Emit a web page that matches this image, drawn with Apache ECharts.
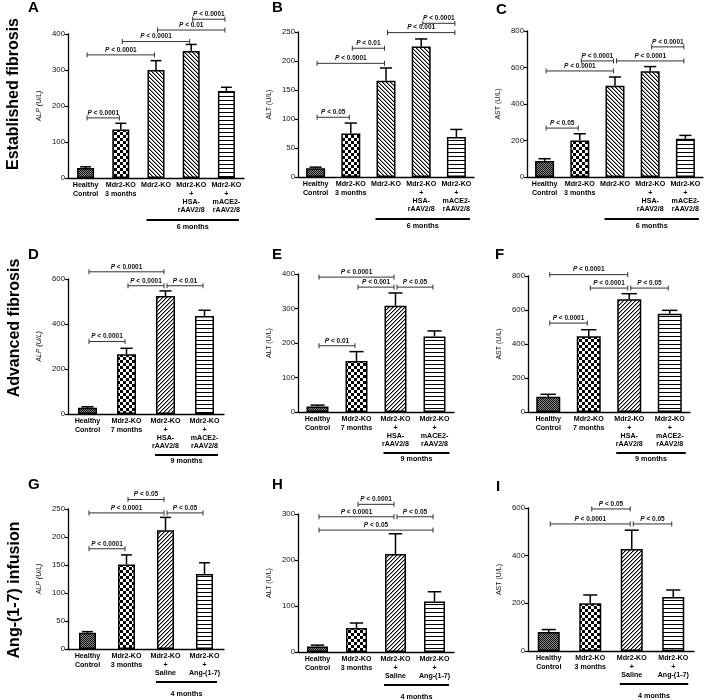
<!DOCTYPE html>
<html><head><meta charset="utf-8">
<script src="https://cdn.jsdelivr.net/npm/echarts@6/dist/echarts.min.js"></script>
<style>html,body{margin:0;padding:0;background:#fff}#c{width:709px;height:700px}</style>
</head><body><div id="c"></div>
<script>
// ---------- DATA ----------
const catsEst = ['Healthy\nControl','Mdr2-KO\n3 months','Mdr2-KO','Mdr2-KO\n+\nHSA-\nrAAV2/8','Mdr2-KO\n+\nmACE2-\nrAAV2/8'];
const catsAdv = ['Healthy\nControl','Mdr2-KO\n7 months','Mdr2-KO\n+\nHSA-\nrAAV2/8','Mdr2-KO\n+\nmACE2-\nrAAV2/8'];
const catsAng = ['Healthy\nControl','Mdr2-KO\n3 months','Mdr2-KO\n+\nSaline','Mdr2-KO\n+\nAng-(1-7)'];

const rowTitles = ['Established fibrosis','Advanced fibrosis','Ang-(1-7) infusion'];
const panelLetters = ['A','B','C','D','E','F','G','H','I'];
const yNames = ['ALP (U/L)','ALT (U/L)','AST (U/L)'];

// means and SEM (U/L)
const alpEstMean = [28,135,300,353,242];  const alpEstSem = [3,17,26,18,10];
const altEstMean = [15,75,166,225,69];    const altEstSem = [2,18,22,13,13];
const astEstMean = [88,200,500,580,210];  const astEstSem = [12,37,48,25,18];
const alpAdvMean = [28,266,524,436];      const alpAdvSem = [4,26,23,25];
const altAdvMean = [16,148,308,219];      const altAdvSem = [4,27,37,16];
const astAdvMean = [90,445,663,578];      const astAdvSem = [14,39,33,20];
const alpAngMean = [29,151,212,134];      const alpAngSem = [2,17,23,20];
const altAngMean = [12,52,213,110];       const altAngSem = [3,11,44,21];
const astAngMean = [80,200,428,227];      const astAngSem = [10,35,79,29];

// y-axis ticks: [max, step]
const ticksA = [400,100], ticksB = [250,50], ticksC = [800,200];
const ticksD = [600,200], ticksE = [400,100], ticksF = [800,200];
const ticksG = [250,50],  ticksH = [300,100], ticksI = [600,200];

// significance brackets: [fromCat, toCat, level (U/L), p-value text]
const pA = [[0,1,167,'0.0001'],[0,2,342,'0.0001'],[1,3,379,'0.0001'],[2,4,411,'0.01'],[3,4,441,'0.0001']];
const pB = [[0,1,103,'0.05'],[0,2,196,'0.0001'],[1,2,222,'0.01'],[2,4,249,'0.001'],[3,4,265,'0.0001']];
const pC = [[0,1,268,'0.05'],[0,2,581,'0.0001'],[1,2,636,'0.0001'],[2,4,636,'0.0001'],[3,4,713,'0.0001']];
const pD = [[0,1,322,'0.0001'],[0,2,632,'0.0001'],[1,2,570,'0.0001'],[2,3,570,'0.01']];
const pE = [[0,1,192,'0.01'],[0,2,391,'0.0001'],[1,2,362,'0.001'],[2,3,362,'0.05']];
const pF = [[0,1,523,'0.0001'],[0,2,808,'0.0001'],[1,2,729,'0.0001'],[2,3,729,'0.05']];
const pG = [[0,1,179,'0.0001'],[0,2,243,'0.0001'],[1,2,267,'0.05'],[2,3,243,'0.05']];
const pH = [[1,2,321,'0.0001'],[0,2,294,'0.0001'],[2,3,294,'0.05'],[0,3,265,'0.05']];
const pI = [[1,2,596,'0.05'],[0,2,533,'0.0001'],[2,3,533,'0.05']];

// time-point groups: [fromCat, toCat, text]
const groupEst = [2,4,'6 months'];
const groupAdv = [2,3,'9 months'];
const groupAng = [2,3,'4 months'];

// ---------- PATTERNS ----------
function tile(w,h,draw){const c=document.createElement('canvas');c.width=w;c.height=h;const g=c.getContext('2d');g.fillStyle='#fff';g.fillRect(0,0,w,h);draw(g);return c;}
const patFine = tile(2,2,g=>{g.fillStyle='#888';g.fillRect(0,0,2,2);g.fillStyle='#111';g.fillRect(0,0,1,1);g.fillRect(1,1,1,1);});
const patCheck = tile(6,6,g=>{g.fillStyle='#000';g.fillRect(0,0,3,3);g.fillRect(3,3,3,3);});
const patUp = tile(4,4,g=>{for(let i=0;i<4;i++){g.fillStyle='#000';g.fillRect(3-i,i,1,1);g.fillStyle='#999';g.fillRect((4-i)%4,i,1,1);}});
const patDown = tile(4,4,g=>{for(let i=0;i<4;i++){g.fillStyle='#000';g.fillRect(i,i,1,1);g.fillStyle='#999';g.fillRect((i+1)%4,i,1,1);}});
const patHor = tile(4,4,g=>{g.fillStyle='#000';g.fillRect(0,0,4,1);});
const P = c => ({image:c, repeat:'repeat'});
const patsEst = [P(patFine),P(patCheck),P(patDown),P(patDown),P(patHor)];
const pats4 = [P(patFine),P(patCheck),P(patUp),P(patHor)];

// ---------- LAYOUT ----------
const panels = [
 {cats:catsEst, mean:alpEstMean, sem:alpEstSem, t:ticksA, br:pA, grp:groupEst, name:yNames[0], it:true,  g:{left:68, top:34, width:176,height:144}, bw:17, lo:42, to:49, pats:patsEst, L:[28,0]},
 {cats:catsEst, mean:altEstMean, sem:altEstSem, t:ticksB, br:pB, grp:groupEst, name:yNames[1], it:false, g:{left:298,top:32, width:176,height:145}, bw:19, lo:42, to:49, pats:patsEst, L:[272,0]},
 {cats:catsEst, mean:astEstMean, sem:astEstSem, t:ticksC, br:pC, grp:groupEst, name:yNames[2], it:false, g:{left:527,top:31, width:176,height:146}, bw:19, lo:42, to:49, pats:patsEst, L:[496,2]},
 {cats:catsAdv, mean:alpAdvMean, sem:alpAdvSem, t:ticksD, br:pD, grp:groupAdv, name:yNames[0], it:true,  g:{left:68, top:279,width:156,height:135}, bw:19, lo:41, to:47, pats:pats4, L:[28,247]},
 {cats:catsAdv, mean:altAdvMean, sem:altAdvSem, t:ticksE, br:pE, grp:groupAdv, name:yNames[1], it:false, g:{left:298,top:274,width:156,height:138}, bw:22, lo:41, to:47, pats:pats4, L:[272,247]},
 {cats:catsAdv, mean:astAdvMean, sem:astAdvSem, t:ticksF, br:pF, grp:groupAdv, name:yNames[2], it:false, g:{left:528,top:276,width:162,height:136}, bw:24, lo:41, to:47, pats:pats4, L:[495,247]},
 {cats:catsAng, mean:alpAngMean, sem:alpAngSem, t:ticksG, br:pG, grp:groupAng, name:yNames[0], it:true,  g:{left:68, top:509,width:156,height:140}, bw:17, lo:33, to:45, pats:pats4, L:[28,477]},
 {cats:catsAng, mean:altAngMean, sem:altAngSem, t:ticksH, br:pH, grp:groupAng, name:yNames[1], it:false, g:{left:298,top:514,width:156,height:138}, bw:21, lo:33, to:45, pats:pats4, L:[272,477]},
 {cats:catsAng, mean:astAngMean, sem:astAngSem, t:ticksI, br:pI, grp:groupAng, name:yNames[2], it:false, g:{left:528,top:508,width:166,height:143}, bw:22, lo:33, to:45, pats:pats4, L:[496,479]}
];

const FF = '"Liberation Sans", Arial, sans-serif';
const grids=[], xAxes=[], yAxes=[], series=[], graphics=[];

panels.forEach((p,k)=>{
  grids.push(Object.assign({containLabel:false}, p.g));
  xAxes.push({type:'category', gridIndex:k, data:p.cats,
    axisLine:{lineStyle:{color:'#000',width:1.3}}, axisTick:{show:false},
    axisLabel:{interval:0, color:'#000', fontFamily:FF, fontSize:7.1, fontWeight:'bold', lineHeight:8.4, margin:3, hideOverlap:false}});
  yAxes.push({type:'value', gridIndex:k, min:0, max:p.t[0], interval:p.t[1],
    splitLine:{show:false},
    axisLine:{show:true, lineStyle:{color:'#000',width:1.3}},
    axisTick:{show:true, length:3, lineStyle:{color:'#000',width:1.2}},
    axisLabel:{color:'#111', fontFamily:FF, fontSize:7.8, margin:3},
    name:p.name, nameLocation:'middle', nameGap:25,
    nameTextStyle:{color:'#111', fontFamily:FF, fontSize:7, fontStyle:p.it?'italic':'normal'}});
  // bars
  series.push({type:'bar', xAxisIndex:k, yAxisIndex:k, barWidth:p.bw, animation:false, silent:true,
    data:p.mean.map((v,i)=>({value:v, itemStyle:{color:p.pats[i], borderColor:'#000', borderWidth:1.5}})), z:2});
  // error bars
  const bw = p.bw;
  series.push({type:'custom', xAxisIndex:k, yAxisIndex:k, animation:false, silent:true, z:3,
    data:p.mean.map((v,i)=>[i, v, v+p.sem[i]]), encode:{x:0, y:[1,2]},
    renderItem:(params,api)=>{
      const a=api.coord([api.value(0),api.value(1)]), b=api.coord([api.value(0),api.value(2)]);
      const h=bw*0.32, st={stroke:'#000', lineWidth:1.5};
      return {type:'group', children:[
        {type:'line', shape:{x1:a[0],y1:a[1],x2:b[0],y2:b[1]}, style:st},
        {type:'line', shape:{x1:b[0]-h,y1:b[1],x2:b[0]+h,y2:b[1]}, style:st}]};
    }});
  // significance brackets
  const br = p.br;
  series.push({type:'custom', xAxisIndex:k, yAxisIndex:k, animation:false, silent:true, clip:false, z:4,
    data:br.map(b=>[b[0], b[1], b[2]]), encode:{x:[0,1], y:2},
    renderItem:(params,api)=>{
      const b=br[params.dataIndex];
      const a=api.coord([api.value(0),api.value(2)]), c=api.coord([api.value(1),api.value(2)]);
      const x1=a[0]+1.5, x2=c[0]-1.5, y=a[1], st={stroke:'#333', lineWidth:1};
      return {type:'group', children:[
        {type:'line', shape:{x1:x1,y1:y,x2:x2,y2:y}, style:st},
        {type:'line', shape:{x1:x1,y1:y-2.5,x2:x1,y2:y+2.5}, style:st},
        {type:'line', shape:{x1:x2,y1:y-2.5,x2:x2,y2:y+2.5}, style:st},
        {type:'text', x:(x1+x2)/2, y:y-1.5, style:{text:'{i|P} < '+b[3], fill:'#111', fontFamily:FF, fontSize:6.5, fontWeight:'bold',
          align:'center', verticalAlign:'bottom', rich:{i:{fontStyle:'italic', fontWeight:'bold', fontSize:6.5, fontFamily:FF, fill:'#111'}}}}]};
    }});
  // time-point group underline
  const grp = p.grp, lo=p.lo, to=p.to;
  series.push({type:'custom', xAxisIndex:k, yAxisIndex:k, animation:false, silent:true, clip:false, z:4,
    data:[[grp[0], grp[1], 0]], encode:{x:[0,1], y:2},
    renderItem:(params,api)=>{
      const a=api.coord([api.value(0),0]), c=api.coord([api.value(1),0]);
      const x1=a[0]-bw/2-1, x2=c[0]+bw/2+4;
      return {type:'group', children:[
        {type:'line', shape:{x1:x1,y1:a[1]+lo,x2:x2,y2:a[1]+lo}, style:{stroke:'#000', lineWidth:1.8}},
        {type:'text', x:(x1+x2)/2, y:a[1]+to, style:{text:grp[2], fill:'#000', fontFamily:FF, fontSize:7.2, fontWeight:'bold', align:'center', verticalAlign:'middle'}}]};
    }});
  graphics.push({type:'text', x:p.L[0], y:p.L[1], style:{text:panelLetters[k], fill:'#000', fontFamily:FF, fontSize:15, fontWeight:'bold', align:'left', verticalAlign:'top'}});
});

const rowCenters = [[14,94],[15,328],[15,590]];
rowTitles.forEach((t,i)=>{
  graphics.push({type:'text', x:rowCenters[i][0], y:rowCenters[i][1], rotation:Math.PI/2,
    style:{text:t, fill:'#000', fontFamily:FF, fontSize:16, fontWeight:'bold', align:'center', verticalAlign:'middle'}});
});

const chart = echarts.init(document.getElementById('c'), null, {renderer:'canvas'});
chart.setOption({animation:false, backgroundColor:'#fff', grid:grids, xAxis:xAxes, yAxis:yAxes, series:series, graphic:graphics});
</script></body></html>
